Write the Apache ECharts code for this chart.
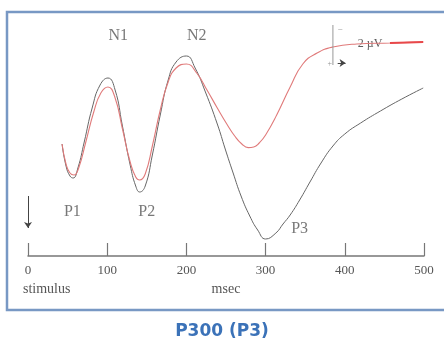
<!DOCTYPE html>
<html>
<head>
<meta charset="utf-8">
<script src="https://cdn.jsdelivr.net/npm/echarts@6/dist/echarts.min.js"></script>
<style>
  html, body { margin: 0; padding: 0; background: #fff; }
  #chart { width: 444px; height: 346px; }
</style>
</head>
<body>
<div id="chart"></div>
<script>
// time in msec, amplitude in µV (negative drawn upward, ERP style)
const blackTime = [43, 48, 53, 57, 63, 71, 81, 91, 101, 110, 119, 129, 136, 141, 148, 157, 167, 177, 187, 200, 211,
    224, 239, 249, 259, 269, 280, 290, 300, 313, 322, 331, 343, 356, 370, 385, 400, 420, 445, 472, 499];
const blackAmp = [-0.3, 0.8, 1.3, 1.4, 0.9, -0.4, -2.1, -3.25, -3.6, -3.0, -1.25, 0.75, 1.8, 2.1, 1.8, 0.25, -1.75, -3.5, -4.4, -4.7, -4.1,
    -2.9, -1.3, -0.05, 1.15, 2.3, 3.3, 4.0, 4.45, 4.15, 3.7, 3.25, 2.5, 1.6, 0.65, -0.2, -0.8, -1.35, -1.95, -2.55, -3.1];

const redTime = [43, 48, 53, 58, 64, 73, 83, 92, 101, 110, 119, 129, 136, 141, 148, 157, 167, 177, 187, 200, 213,
    226, 239, 251, 261, 270, 278, 285, 292, 300, 314, 331, 347, 365, 385, 415, 457, 480, 499];
const redAmp = [-0.3, 0.7, 1.15, 1.25, 0.9, -0.4, -1.9, -2.85, -3.15, -2.6, -1.1, 0.6, 1.35, 1.5, 1.2, -0.2, -2.0, -3.4, -4.1, -4.3, -3.85,
    -3.0, -2.1, -1.3, -0.7, -0.3, -0.12, -0.15, -0.35, -0.75, -1.75, -3.15, -4.3, -4.85, -5.15, -5.3, -5.35, -5.38, -5.4];

const xTicks = [0, 100, 200, 300, 400, 500];

const peakNames = ['N1', 'N2', 'P1', 'P2', 'P3'];
const peakTime = [114, 213, 56, 150, 343];
const peakAmp = [-5.7, -5.7, 3.1, 3.1, 3.95];

const scaleTime = 385;
const scaleFrom = -6.25;
const scaleTo = -4.25;
const scaleLabel = '2 µV';

const chart = echarts.init(document.getElementById('chart'));

const zip = (xs, ys) => xs.map((x, i) => [x, ys[i]]);
const redPts = zip(redTime, redAmp);

const serif = '"Liberation Serif", "DejaVu Serif", serif';

const textItem = (x, y, text, size, color) => ({
    value: [x, y, text],
    label: { fontSize: size, color: color || '#555' }
});

const labelData = peakNames.map((n, i) => textItem(peakTime[i], peakAmp[i], n, 16)).concat([
    textItem(scaleTime + 47, -5.3, scaleLabel, 12, '#333'),
    textItem(scaleTime + 9, -6.0, '−', 9, '#777'),
    textItem(scaleTime - 4, -4.3, '+', 8, '#777')
]);

chart.setOption({
    animation: false,
    graphic: [
        {
            type: 'rect',
            shape: { x: 7, y: 12, width: 450, height: 298 },
            style: { fill: 'none', stroke: '#7898c4', lineWidth: 2.5 },
            z: 10
        },
        {
            type: 'text',
            left: 23, top: 282,
            style: { text: 'stimulus', font: '14px ' + serif, fill: '#555' }
        },
        {
            type: 'text',
            left: 'center', top: 323,
            style: { text: 'P300 (P3)', font: 'bold 17px "DejaVu Sans", sans-serif', fill: '#3b72b8' }
        }
    ],
    grid: { left: 28, right: 20, top: 10, bottom: 90 },
    xAxis: {
        type: 'value',
        min: 0,
        max: 500,
        interval: 100,
        name: 'msec',
        nameLocation: 'middle',
        nameGap: 23,
        nameTextStyle: { fontFamily: serif, fontSize: 14, color: '#555' },
        splitLine: { show: false },
        axisLine: { onZero: false, lineStyle: { color: '#777', width: 1.5 } },
        axisTick: { inside: true, length: 13, lineStyle: { color: '#777', width: 1.2 } },
        axisLabel: {
            margin: 8,
            fontFamily: serif, fontSize: 13, color: '#555',
            customValues: xTicks
        }
    },
    yAxis: { type: 'value', min: -7, max: 5.3, inverse: true, show: false },
    series: [
        {
            type: 'line',
            data: zip(blackTime, blackAmp),
            smooth: 0.5,
            symbol: 'none',
            lineStyle: { color: '#666', width: 1 }
        },
        {
            type: 'line',
            data: redPts,
            smooth: 0.5,
            symbol: 'none',
            lineStyle: { color: '#e07a7a', width: 1.1 }
        },
        {
            type: 'line',
            data: redPts.slice(-3),
            smooth: true,
            symbol: 'none',
            lineStyle: { color: '#e8484a', width: 2 }
        },
        {
            type: 'line',
            data: [[scaleTime, scaleFrom], [scaleTime, scaleTo]],
            symbol: 'none',
            lineStyle: { color: '#999', width: 1 },
            markLine: {
                silent: true,
                symbol: ['none', 'arrow'],
                symbolSize: 6,
                label: { show: false },
                lineStyle: { color: '#444', width: 1, type: 'solid' },
                data: [
                    [{ coord: [0, 2.3] }, { coord: [0, 3.9] }],
                    [{ coord: [scaleTime + 6, -4.35] }, { coord: [scaleTime + 16, -4.35] }]
                ]
            }
        },
        {
            type: 'scatter',
            symbolSize: 0,
            data: labelData,
            label: {
                show: true,
                position: 'inside',
                fontFamily: serif,
                formatter: p => p.value[2]
            },
            itemStyle: { color: 'transparent' }
        }
    ]
});
</script>
</body>
</html>
